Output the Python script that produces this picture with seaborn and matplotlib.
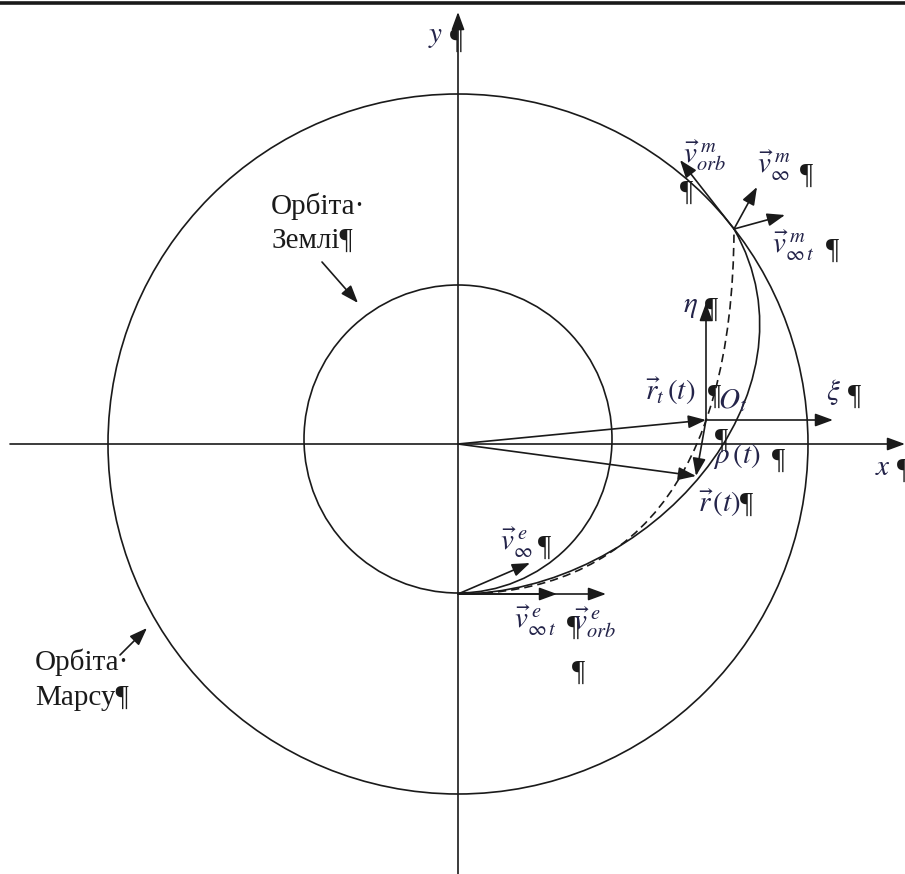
import numpy as np
import matplotlib
matplotlib.use("Agg")
import matplotlib.pyplot as plt
import matplotlib.patches as mpatches
from matplotlib.path import Path
import seaborn as sns

# geometry of the scheme (drawing units, origin = Sun)
r_earth = 154
earth_center = (0, 5)
r_mars = 350
E = (0, -150)          # departure point on Earth orbit
M = (276, 215)         # arrival point on Mars orbit
Ot = (248, 24)         # origin of the moving frame
P = (238, -32)         # current point of the trajectory
eta_tip = (248, 141)
xi_tip = (375, 24)

# trajectories as cubic Bezier control points
traj_solid = [E, (190, -150), (370, 50), M]
traj_dashed = [E, (170, -150), (275, -40), M]

# velocity vectors (tips)
v_inf_e = (72, -119)
v_inf_t_e = (99, -150)
v_orb_e = (148, -150)
v_orb_m = (222, 284)
v_inf_m = (299, 257)
v_inf_t_m = (327, 229)

# labels: (x, y, text, is_math)
labels = [
    (-30, 402, r"$y$", True), (-8, 396, "¶", False),
    (417, -31, r"$x$", True), (439, -34, "¶", False),
    (225, 281, r"$\vec{v}_{orb}^{\;m}$", True), (222, 244, "¶", False),
    (299, 271, r"$\vec{v}_{\infty}^{\;m}$", True), (342, 261, "¶", False),
    (314, 191, r"$\vec{v}_{\infty\,t}^{\;m}$", True), (368, 186, "¶", False),
    (225, 132, r"$\eta$", True), (247, 127, "¶", False),
    (187, 44, r"$\vec{r}_t\,(t)$", True), (250, 40, "¶", False),
    (260, 36, r"$O_t$", True),
    (368, 44, r"$\xi$", True), (390, 40, "¶", False),
    (257, -4, "¶", False),
    (255, -19, r"$\rho\,(t)$", True), (314, -24, "¶", False),
    (240, -68, r"$\vec{r}\,(t)$", True), (282, -68, "¶", False),
    (42, -106, r"$\vec{v}_{\infty}^{\;e}$", True), (80, -111, "¶", False),
    (56, -184, r"$\vec{v}_{\infty\,t}^{\;e}$", True), (109, -191, "¶", False),
    (115, -186, r"$\vec{v}_{orb}^{\;e}$", True), (114, -236, "¶", False),
]
earth_text = ["Орбіта·", "Землі¶"]
earth_text_pos = [(-187, 230), (-187, 196)]
earth_arrow = [(-136, 182), (-100, 141)]
mars_text = ["Орбіта·", "Марсу¶"]
mars_text_pos = [(-423, -226), (-423, -261)]
mars_arrow = [(-338, -211), (-311, -184)]

sns.set_theme(style="white")
plt.rcParams["font.family"] = ["Liberation Serif", "DejaVu Serif"]
plt.rcParams["mathtext.fontset"] = "stix"

fig = plt.figure(figsize=(9.05, 8.74), dpi=100)
ax = fig.add_axes([0, 0, 1, 1])
ax.set_xlim(-458, 447)
ax.set_ylim(-430, 444)
ax.set_aspect("equal")
ax.axis("off")

lw = 1.2
math_color = "#24244a"


def arrow(p0, p1, lw=lw):
    ax.annotate("", xy=p1, xytext=p0,
                arrowprops=dict(arrowstyle="-|>,head_length=0.6,head_width=0.22",
                                color="k", lw=lw, shrinkA=0, shrinkB=0,
                                mutation_scale=18))


# top rule
ax.axhline(441.5, color="k", lw=2.6)

# coordinate axes
arrow((-448, 0), (447, 0))
arrow((0, -430), (0, 432))

# orbits
ax.add_patch(mpatches.Circle(earth_center, r_earth, fill=False, ec="k", lw=lw))
ax.add_patch(mpatches.Circle((0, 0), r_mars, fill=False, ec="k", lw=lw))

# trajectories
codes = [Path.MOVETO, Path.CURVE4, Path.CURVE4, Path.CURVE4]
ax.add_patch(mpatches.PathPatch(Path(traj_solid, codes), fill=False, ec="k", lw=lw))
ax.add_patch(mpatches.PathPatch(Path(traj_dashed, codes), fill=False, ec="k",
                                lw=lw, ls=(0, (5, 3))))

# position vectors and moving frame
arrow((0, 0), Ot)
arrow((0, 0), P)
arrow(Ot, P)
arrow(Ot, eta_tip)
arrow(Ot, xi_tip)

# velocity vectors
arrow(E, v_orb_e)
arrow(E, v_inf_t_e)
arrow(E, v_inf_e)
arrow(M, v_orb_m)
arrow(M, v_inf_m)
arrow(M, v_inf_t_m)

# orbit captions
arrow(*earth_arrow)
arrow(*mars_arrow)
for s, (x, y) in zip(earth_text, earth_text_pos):
    ax.text(x, y, s, fontsize=21, ha="left", va="baseline", color="k")
for s, (x, y) in zip(mars_text, mars_text_pos):
    ax.text(x, y, s, fontsize=21, ha="left", va="baseline", color="k")

for x, y, s, is_math in labels:
    ax.text(x, y, s, fontsize=21, ha="left", va="baseline",
            color=math_color if is_math else "k")

fig.savefig("out.png", dpi=100)
